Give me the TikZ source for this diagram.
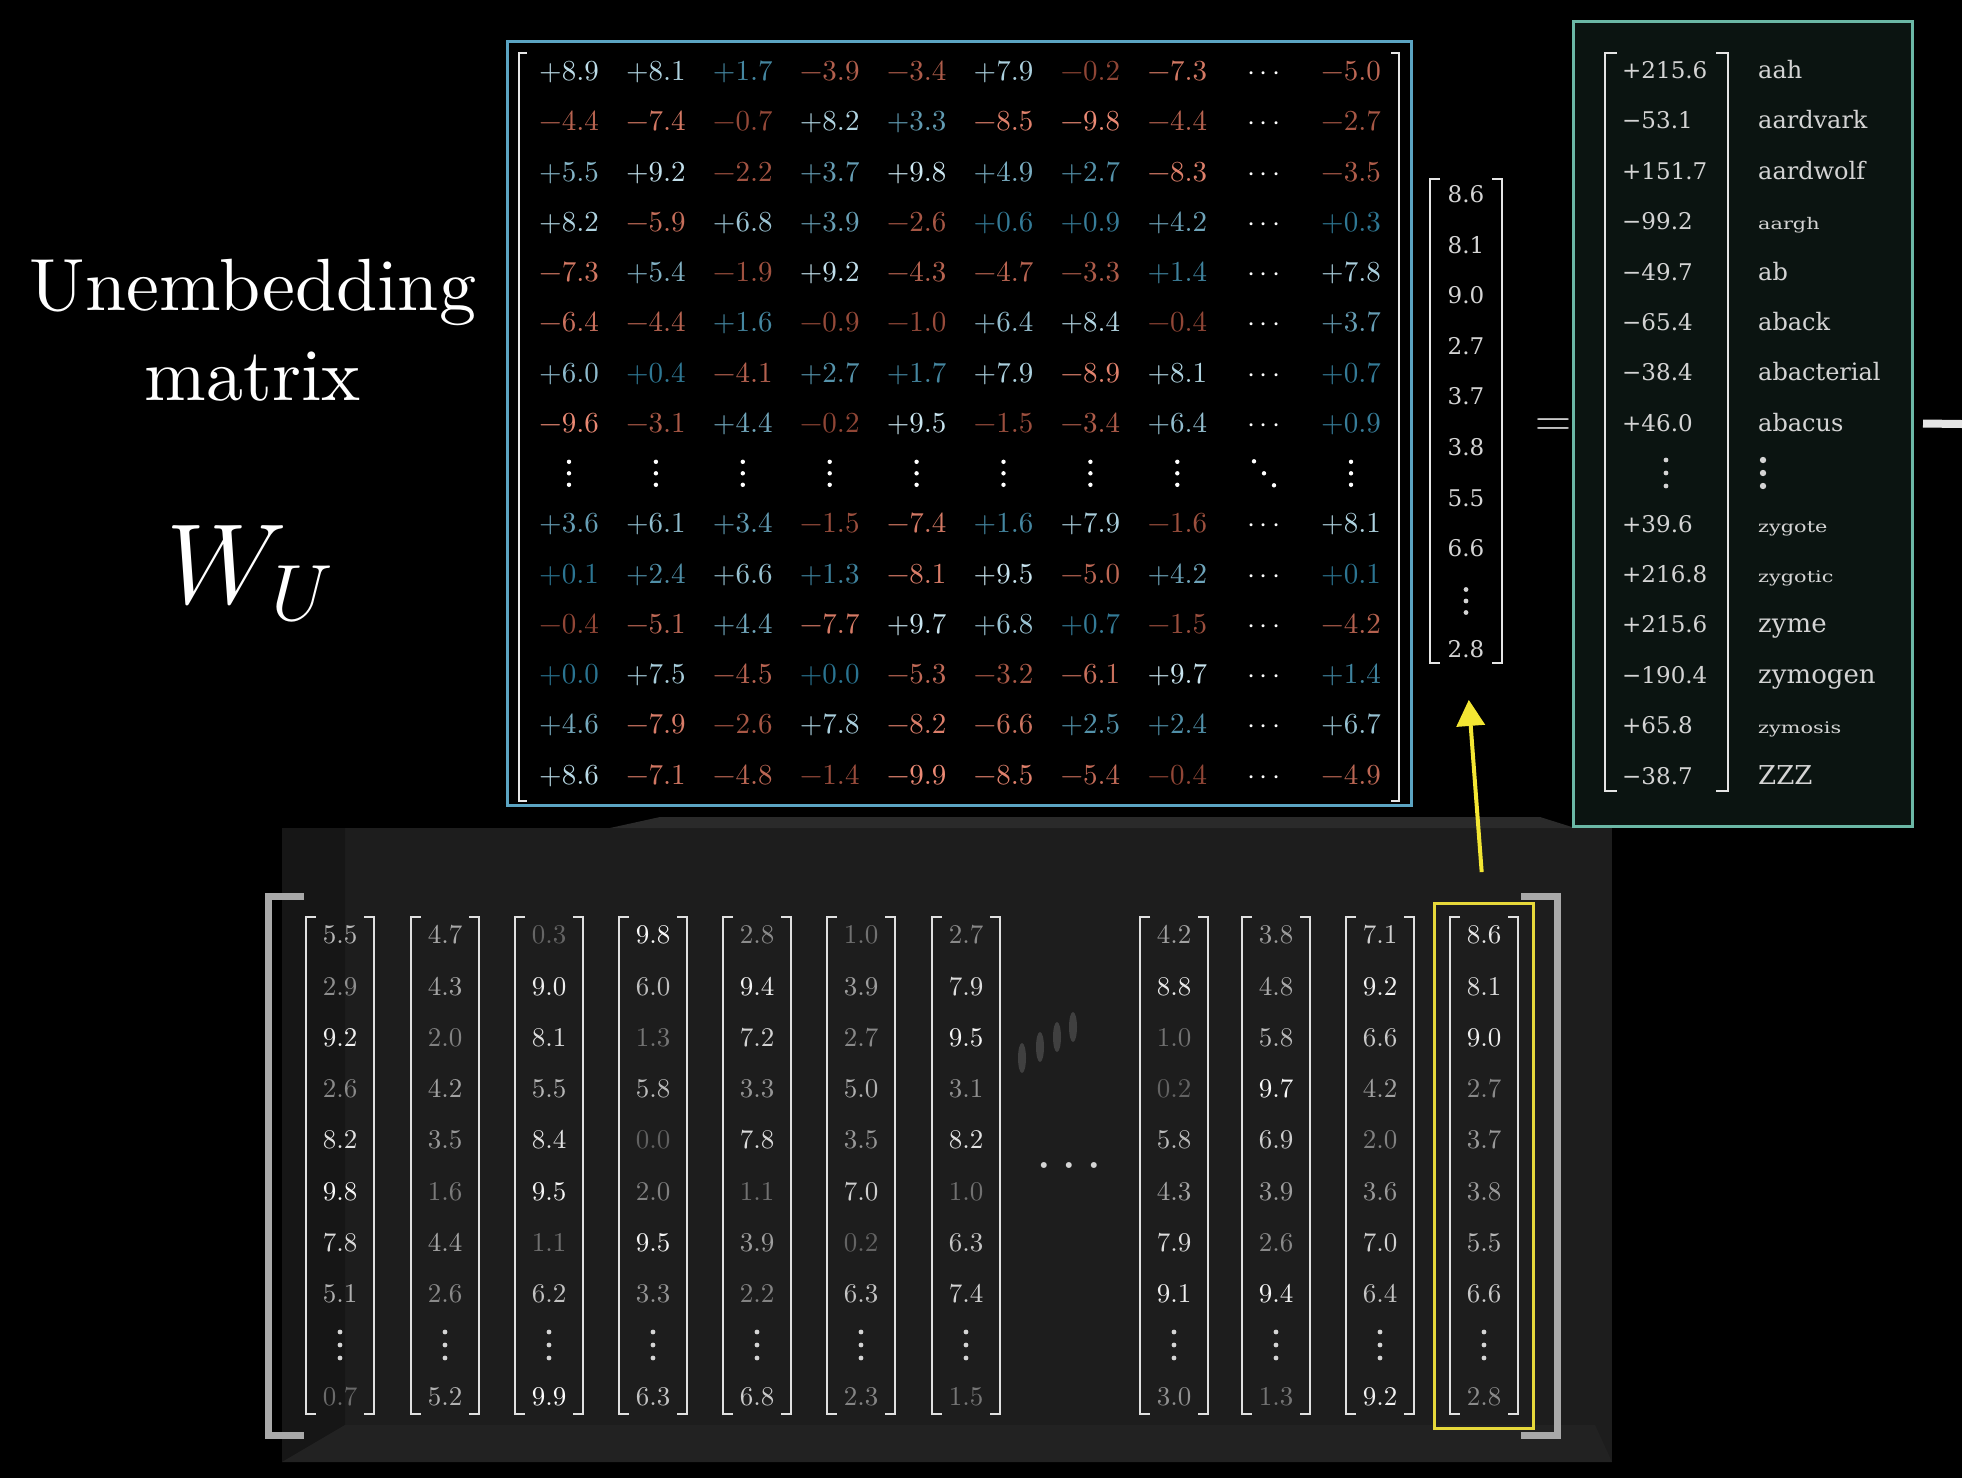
\RequirePackage{fix-cm}
\documentclass[tikz,border=0pt]{standalone}
\usepackage{fontspec}
\usepackage{xcolor}
\usepackage{tikz}
\usetikzlibrary{positioning,arrows.meta,calc}

\newfontfamily\serifwide{DejaVu Serif}
\newfontfamily\cmten{lmroman10-regular.otf}

\definecolor{posLo}{HTML}{2A7491}
\definecolor{posHi}{HTML}{D0EAF4}
\definecolor{negLo}{HTML}{8E4434}
\definecolor{negHi}{HTML}{EE8C76}
\definecolor{wframe}{HTML}{5BA4C2}
\definecolor{lframe}{HTML}{6BB8A6}
\definecolor{lfill}{HTML}{0B1411}
\definecolor{panelfront}{HTML}{1D1D1D}
\definecolor{panelleft}{HTML}{161616}
\definecolor{panelbot}{HTML}{222222}
\definecolor{paneltop}{HTML}{2A2A2A}
\definecolor{hlyellow}{HTML}{E6D83A}
\definecolor{arryellow}{HTML}{F3E633}
\definecolor{txtgray}{HTML}{D4D4D4}
\definecolor{bigbrkgray}{HTML}{A9A9A9}

\def\stripm-#1\relax{#1}
\newcommand\sgn[1]{\ifdim#1pt<0pt −\expandafter\stripm#1\relax\else +#1\fi}
\newcommand\sx[1]{\scalebox{1.3}[1]{#1}}
\newcommand\vdts[4]{\foreach \dd in {-1,0,1} {\fill[#4] (#1,{#2+\dd*#3}) circle;}}
\newcommand\brk[3]{%
  \draw[#2] ([xshift=#3]#1.north west) -- (#1.north west) -- (#1.south west) -- ([xshift=#3]#1.south west);
  \draw[#2] ([xshift=-#3]#1.north east) -- (#1.north east) -- (#1.south east) -- ([xshift=-#3]#1.south east);}

\begin{document}
\begin{tikzpicture}[
    x=1pt, y=-1pt,
    >=Latex,
    ttl/.style      = {anchor=base, inner sep=0pt, text=white, font=\cmten\fontsize{74}{80}\selectfont},
    wu/.style       = {anchor=base, inner sep=0pt, text=white, font=\fontsize{114}{120}\selectfont},
    went/.style     = {inner sep=0pt, font=\cmten\fontsize{29}{29}\selectfont, text height=18.7pt, text depth=0pt},
    eent/.style     = {inner sep=0pt, font=\cmten\fontsize{27}{27}\selectfont, text height=17.4pt, text depth=0pt},
    vent/.style     = {inner sep=0pt, text=txtgray, font=\serifwide\fontsize{23}{23}\selectfont,
                       text height=16.8pt, text depth=0pt},
    lnum/.style     = {vent, anchor=west},
    lword/.style    = {inner sep=0pt, anchor=base west, text=txtgray, font=\serifwide\fontsize{24}{24}\selectfont},
    lsmall/.style   = {lword, font=\serifwide\fontsize{16}{16}\selectfont},
    lbig/.style     = {lword, font=\serifwide\fontsize{26}{26}\selectfont},
    brkfr/.style    = {inner sep=0pt, outer sep=0pt},
    wbrk/.style     = {line width=2.5pt, draw=white!90!black},
    ebrk/.style     = {line width=2.5pt, draw=white!88!black},
    bigbrk/.style   = {line width=7pt, draw=bigbrkgray},
    topbox/.style   = {brkfr, draw=wframe, fill=black, line width=3pt},
    logitbox/.style = {brkfr, draw=lframe, fill=lfill, line width=3pt},
    hlbox/.style    = {brkfr, draw=hlyellow, line width=3pt},
    wdot/.style     = {fill=white, radius=2.2pt},
    gdot/.style     = {fill=txtgray, radius=2.4pt},
    bdot/.style     = {fill=txtgray, radius=3.2pt},
    faint/.style    = {fill=white!25!black},
    yarr/.style     = {draw=arryellow, line width=4pt, -{Triangle[width=28pt,length=26pt]}},
    stub/.style     = {draw=white!90!black, line width=8pt},
    eqs/.style      = {anchor=base, inner sep=0pt, text=txtgray, font=\fontsize{50}{50}\selectfont},
]
\useasboundingbox (0,0) rectangle (1962,1478);
\fill[black] (0,0) rectangle (1962,1478);

% title
\node[ttl] (t1) at (253,310) {Unembedding};
\node[ttl] (t2) at (253,400) {matrix};
\node[wu]  (wu) at (250,603) {$W_U$};

% panel behind the embedding columns
\fill[panelfront] (282,828) rectangle (1612,1462);
\fill[panelleft] (282,828) -- (345,828) -- (345,1425) -- (282,1462) -- cycle;
\fill[panelbot] (282,1462) -- (345,1425) -- (1595,1425) -- (1612,1462) -- cycle;
\fill[paneltop] (610,828) -- (660,817) -- (1540,817) -- (1575,828) -- cycle;

% unembedding matrix
\node[topbox, minimum width=904, minimum height=764] (wbox) at (959,423) {};
\node[brkfr, minimum width=880, minimum height=748] (wmat) at (959,427) {};
\brk{wmat}{wbrk}{8pt}

\foreach \row [count=\rr] in {%
{8.9,8.1,1.7,-3.9,-3.4,7.9,-0.2,-7.3,-5.0},%
{-4.4,-7.4,-0.7,8.2,3.3,-8.5,-9.8,-4.4,-2.7},%
{5.5,9.2,-2.2,3.7,9.8,4.9,2.7,-8.3,-3.5},%
{8.2,-5.9,6.8,3.9,-2.6,0.6,0.9,4.2,0.3},%
{-7.3,5.4,-1.9,9.2,-4.3,-4.7,-3.3,1.4,7.8},%
{-6.4,-4.4,1.6,-0.9,-1.0,6.4,8.4,-0.4,3.7},%
{6.0,0.4,-4.1,2.7,1.7,7.9,-8.9,8.1,0.7},%
{-9.6,-3.1,4.4,-0.2,9.5,-1.5,-3.4,6.4,0.9},%
{3.6,6.1,3.4,-1.5,-7.4,1.6,7.9,-1.6,8.1},%
{0.1,2.4,6.6,1.3,-8.1,9.5,-5.0,4.2,0.1},%
{-0.4,-5.1,4.4,-7.7,9.7,6.8,0.7,-1.5,-4.2},%
{0.0,7.5,-4.5,0.0,-5.3,-3.2,-6.1,9.7,1.4},%
{4.6,-7.9,-2.6,7.8,-8.2,-6.6,2.5,2.4,6.7},%
{8.6,-7.1,-4.8,-1.4,-9.9,-8.5,-5.4,-0.4,-4.9}}{%
  \pgfmathsetmacro\yy{71.3+50.25*(\rr<9 ? \rr-1 : \rr)}
  \foreach \val [count=\cc] in \row {
    \pgfmathsetmacro\xx{\cc<9 ? 569+86.9*(\cc-1) : 1351}
    \pgfmathtruncatemacro\pp{abs(\val)*10}
    \ifdim\val pt<0pt \def\tc{negHi!\pp!negLo}\else\def\tc{posHi!\pp!posLo}\fi
    \node[went, text=\tc] (w-\rr-\cc) at (\xx,\yy) {\sgn{\val}};
  }
  \node[went, text=white] (wd-\rr) at (1264,\yy) {$\cdots$};
}
\foreach \cc in {1,...,8} {
  \pgfmathsetmacro\xx{569+86.9*(\cc-1)}
  \vdts{\xx}{473.3}{11.5}{wdot}
}
\vdts{1351}{473.3}{11.5}{wdot}
\foreach \dd in {-1,0,1} {\fill[wdot] ({1264+10*\dd},{473.3+12*\dd}) circle;}

% picked column
\node[brkfr, minimum width=72, minimum height=484] (uvec) at (1466,421) {};
\brk{uvec}{wbrk}{10pt}
\foreach \val [count=\dd] in {8.6,8.1,9.0,2.7,3.7,3.8,5.5,6.6,2.8} {
  \pgfmathsetmacro\yy{194+50.6*(\dd<9 ? \dd-1 : \dd)}
  \node[vent] (u-\dd) at (1466,\yy) {\val};
}
\vdts{1466}{601}{11.5}{gdot}

\node[eqs] (eq) at (1553,436.5) {$=$};

% logits
\node[logitbox, minimum width=339, minimum height=805] (rbox) at (1742.5,423.5) {};
\node[brkfr, minimum width=123, minimum height=738] (lvec) at (1666.5,422) {};
\brk{lvec}{wbrk}{12pt}
\foreach \val/\word/\sty [count=\dd] in {+215.6/aah/lword, −53.1/aardvark/lword,
    +151.7/aardwolf/lword, −99.2/\sx{aargh}/lsmall, −49.7/ab/lword, −65.4/aback/lword,
    −38.4/abacterial/lword, +46.0/abacus/lword, +39.6/\sx{zygote}/lsmall,
    +216.8/\sx{zygotic}/lsmall, +215.6/zyme/lbig, −190.4/zymogen/lbig,
    +65.8/\sx{zymosis}/lsmall, −38.7/ZZZ/lbig} {
  \pgfmathsetmacro\yy{70.1+50.4*(\dd<9 ? \dd-1 : \dd)}
  \pgfmathsetmacro\yb{\yy+8.4}
  \node[lnum] (l-\dd) at (1622,\yy) {\val};
  \node[\sty] (t-\dd) at (1758,\yb) {\word};
}
\vdts{1666}{473}{13}{gdot}
\vdts{1763}{473}{13}{bdot}

\coordinate (outr) at (1962,424);
\draw[stub] ([xshift=11pt]rbox.east) -- (outr);

% embedding columns
\node[brkfr, minimum width=1289, minimum height=539] (emb) at (912.5,1166) {};
\brk{emb}{bigbrk}{36pt}

\foreach \col [count=\nn] in {%
{5.5,2.9,9.2,2.6,8.2,9.8,7.8,5.1,0.7},%
{4.7,4.3,2.0,4.2,3.5,1.6,4.4,2.6,5.2},%
{0.3,9.0,8.1,5.5,8.4,9.5,1.1,6.2,9.9},%
{9.8,6.0,1.3,5.8,0.0,2.0,9.5,3.3,6.3},%
{2.8,9.4,7.2,3.3,7.8,1.1,3.9,2.2,6.8},%
{1.0,3.9,2.7,5.0,3.5,7.0,0.2,6.3,2.3},%
{2.7,7.9,9.5,3.1,8.2,1.0,6.3,7.4,1.5},%
{4.2,8.8,1.0,0.2,5.8,4.3,7.9,9.1,3.0},%
{3.8,4.8,5.8,9.7,6.9,3.9,2.6,9.4,1.3},%
{7.1,9.2,6.6,4.2,2.0,3.6,7.0,6.4,9.2},%
{8.6,8.1,9.0,2.7,3.7,3.8,5.5,6.6,2.8}}{%
  \pgfmathsetmacro\cx{{340,445,549,653,757,861,966,1174,1276,1380,1484}[\nn-1]}
  \node[brkfr, minimum width=68, minimum height=497] (v\nn) at (\cx,1165.5) {};
  \brk{v\nn}{ebrk}{10pt}
  \foreach \val [count=\dd] in \col {
    \pgfmathsetmacro\yy{935+51.3*(\dd<9 ? \dd-1 : \dd)}
    \pgfmathtruncatemacro\pp{30+7*\val}
    \node[eent, text=white!\pp!panelfront] (v\nn-\dd) at (\cx,\yy) {\val};
  }
  \vdts{\cx}{1345}{13}{gdot}
}
\node[eqs, font=\fontsize{56}{56}\selectfont] (mid) at (1069,1179) {$\cdots$};
\foreach \ex/\ey in {1022/1058,1040/1047,1057/1037,1073/1027}
  \fill[faint] (\ex,\ey) ellipse [x radius=4pt, y radius=15pt];

% picked token
\node[hlbox, minimum width=99, minimum height=525] (hl) at (v11) {};
\draw[yarr, shorten <=31pt, shorten >=37pt] (hl.north) -- (uvec.south);
\end{tikzpicture}
\end{document}
